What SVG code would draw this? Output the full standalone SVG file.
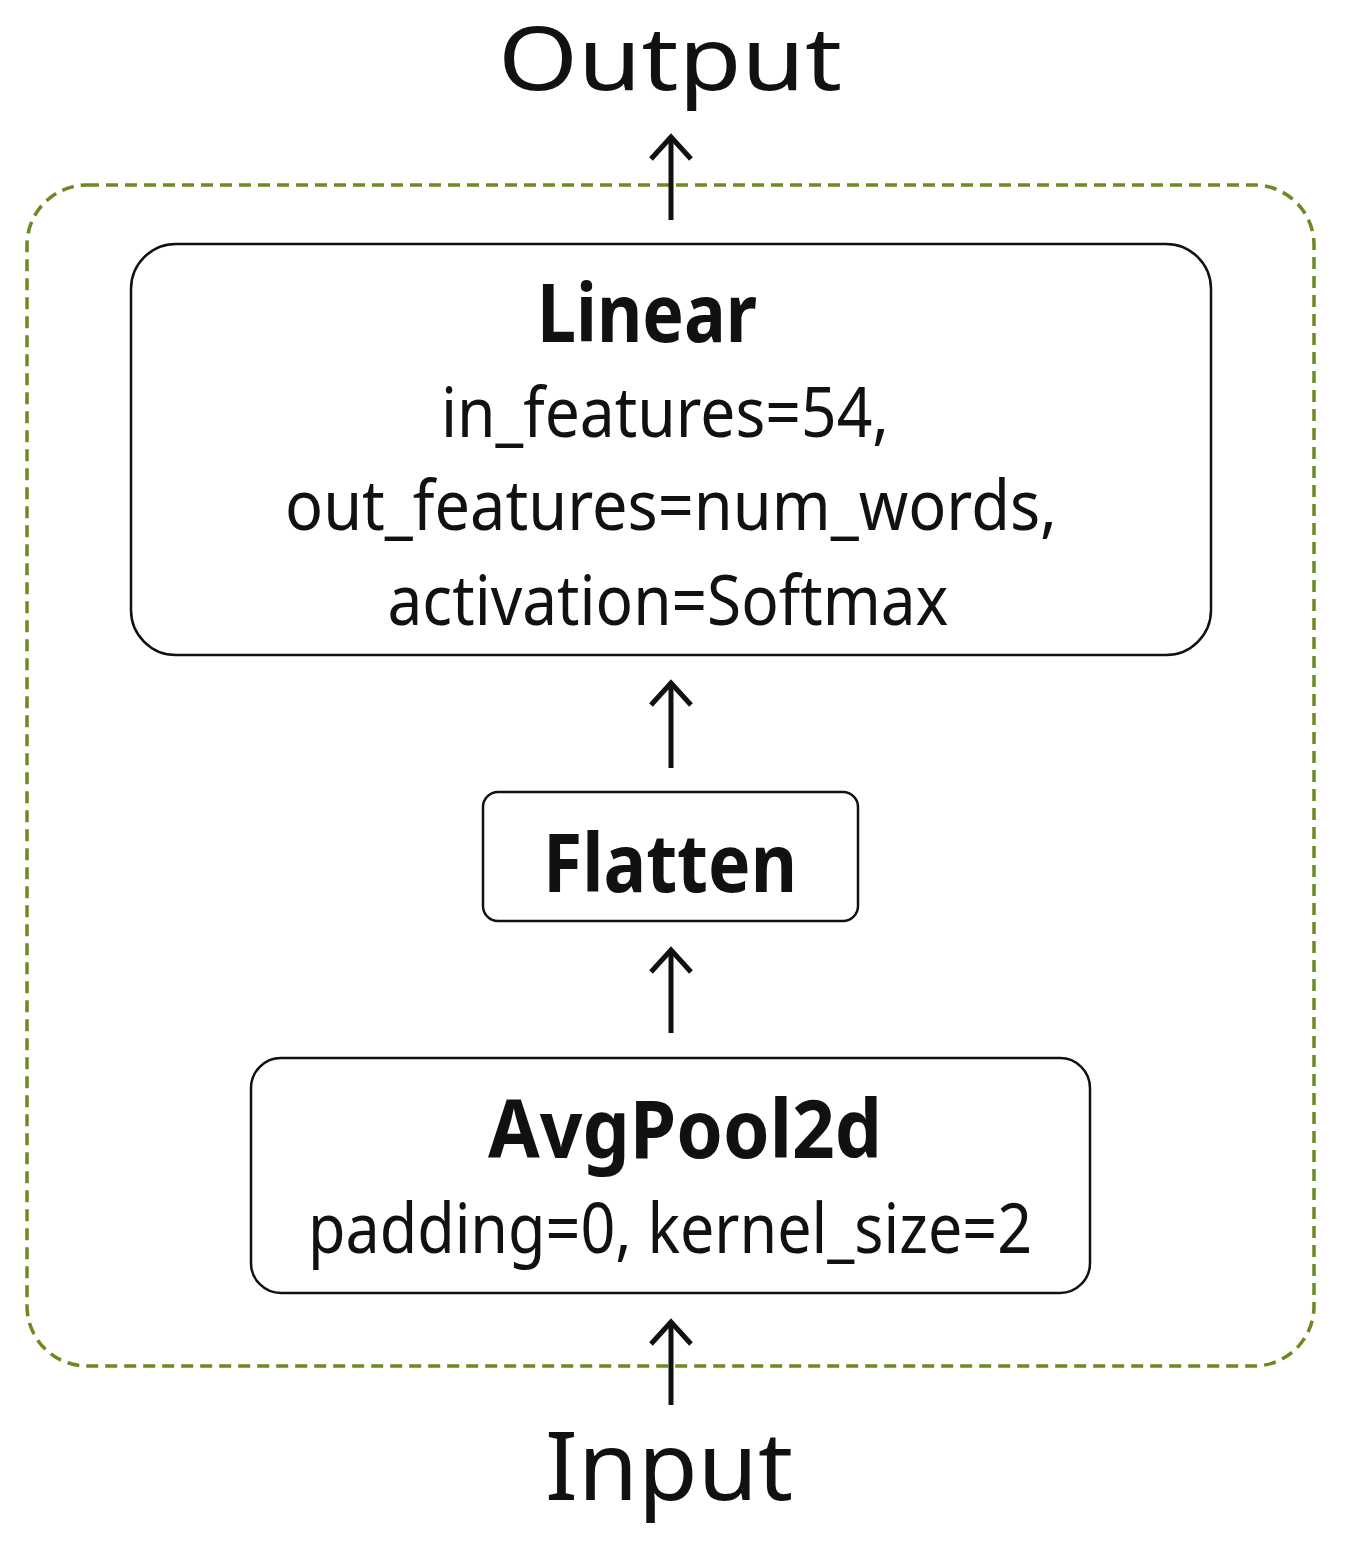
<svg xmlns="http://www.w3.org/2000/svg" width="1345" height="1548" viewBox="0 0 1345 1548">
<style>
.t{font-family:"Noto Sans","Open Sans",sans-serif;fill:#111;text-anchor:middle}
.b{font-weight:bold}
.box{fill:#fff;stroke:#111;stroke-width:2.5}
.c{stroke:#111;stroke-width:5;fill:none}
</style>
<defs><marker id="a" markerWidth="12" markerHeight="10" refX="10" refY="5" orient="auto" markerUnits="userSpaceOnUse" viewBox="0 0 12 10" overflow="visible"><polyline points="-12,-15 10,5 -12,25" fill="none" stroke="#111" stroke-width="5"/></marker></defs>
<rect x="27" y="185" width="1287" height="1181" rx="60" fill="none" stroke="#6b8a1f" stroke-width="3.5" stroke-dasharray="12,7"/>
<g id="output"><text class="t" x="670" y="90" font-size="88" textLength="344" lengthAdjust="spacingAndGlyphs">Output</text></g>
<g id="linear"><rect class="box" x="131" y="244" width="1080" height="411" rx="45"/>
<text class="t b" x="647" y="342" font-size="80" textLength="220" lengthAdjust="spacingAndGlyphs">Linear</text>
<text class="t" x="665" y="437" font-size="70" textLength="448" lengthAdjust="spacingAndGlyphs">in_features=54,</text>
<text class="t" x="671" y="530" font-size="70" textLength="772" lengthAdjust="spacingAndGlyphs">out_features=num_words,</text>
<text class="t" x="668" y="625" font-size="70" textLength="561" lengthAdjust="spacingAndGlyphs">activation=Softmax</text></g>
<g id="flatten"><rect class="box" x="483" y="792" width="375" height="129" rx="15"/>
<text class="t b" x="670" y="892" font-size="80" textLength="254" lengthAdjust="spacingAndGlyphs">Flatten</text></g>
<g id="avgpool"><rect class="box" x="251" y="1058" width="839" height="235" rx="30"/>
<text class="t b" x="685" y="1158" font-size="80" textLength="394" lengthAdjust="spacingAndGlyphs">AvgPool2d</text>
<text class="t" x="670" y="1253" font-size="70" textLength="724" lengthAdjust="spacingAndGlyphs">padding=0, kernel_size=2</text></g>
<g id="input"><text class="t" x="669" y="1500" font-size="95" textLength="248" lengthAdjust="spacingAndGlyphs">Input</text></g>
<g id="connectors">
<line class="c" x1="671" y1="220" x2="671" y2="137" marker-end="url(#a)"/>
<line class="c" x1="671" y1="768" x2="671" y2="683" marker-end="url(#a)"/>
<line class="c" x1="671" y1="1033" x2="671" y2="950" marker-end="url(#a)"/>
<line class="c" x1="671" y1="1405" x2="671" y2="1322" marker-end="url(#a)"/>
</g>
</svg>
